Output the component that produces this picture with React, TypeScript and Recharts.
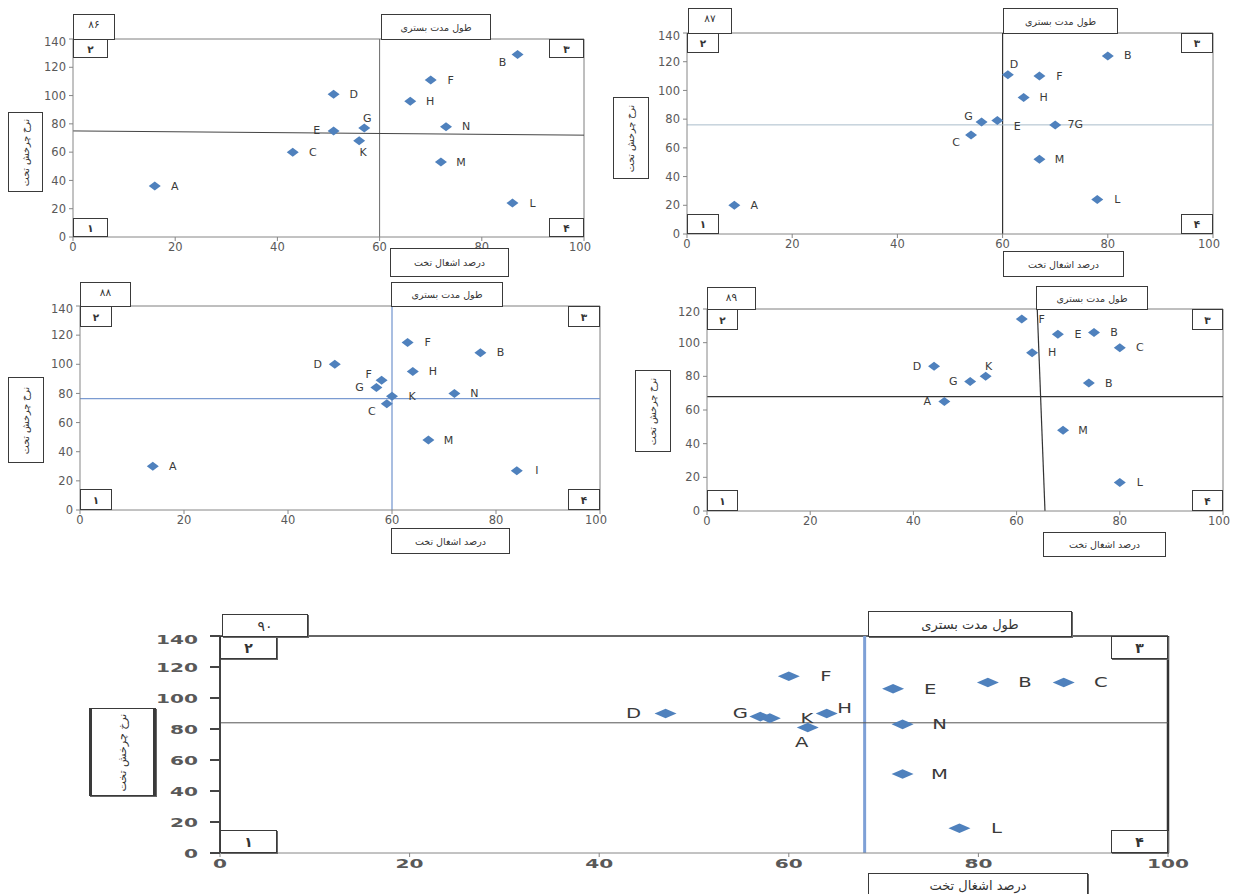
import React from "react";
import { ReferenceLine, Scatter, ScatterChart, XAxis, YAxis } from "recharts";

// shared axis ticks
const xTicks = [0, 20, 40, 60, 80, 100];
const yTicks140 = [0, 20, 40, 60, 80, 100, 120, 140];
const yTicks120 = [0, 20, 40, 60, 80, 100, 120];

// year 86
const names86 = ["A", "B", "C", "D", "E", "F", "G", "H", "K", "L", "M", "N"];
const occ86 = [16, 87, 43, 51, 51, 70, 57, 66, 56, 86, 72, 73];
const turn86 = [36, 129, 60, 101, 75, 111, 77, 96, 68, 24, 53, 78];

// year 87
const names87 = ["A", "B", "C", "D", "E", "F", "G", "H", "7G", "L", "M"];
const occ87 = [9, 80, 54, 61, 59, 67, 56, 64, 70, 78, 67];
const turn87 = [20, 124, 69, 111, 79, 110, 78, 95, 76, 24, 52];

// year 88
const names88 = ["A", "B", "C", "D", "F", "F", "G", "H", "K", "M", "N", "I"];
const occ88 = [14, 77, 59, 49, 63, 58, 57, 64, 60, 67, 72, 84];
const turn88 = [30, 108, 73, 100, 115, 89, 84, 95, 78, 48, 80, 27];

// year 89
const names89 = ["A", "B", "B", "C", "D", "E", "F", "G", "H", "K", "L", "M"];
const occ89 = [46, 75, 74, 80, 44, 68, 61, 51, 63, 54, 80, 69];
const turn89 = [65, 106, 76, 97, 86, 105, 114, 77, 94, 80, 17, 48];

// year 90
const names90 = ["A", "B", "C", "D", "E", "F", "G", "H", "K", "L", "M", "N"];
const occ90 = [62, 81, 89, 47, 71, 60, 57, 64, 58, 78, 72, 72];
const turn90 = [81, 110, 110, 90, 106, 114, 88, 90, 87, 16, 51, 83];

const quadrants = ["۱", "۲", "۳", "۴"];
const titleText = "طول مدت بستری";
const xTitleText = "درصد اشغال تخت";
const yTitleText = "نرخ چرخش تخت";

type Row = { name: string; x: number; y: number };
type Box = [number, number, number, number];
type Line = { x?: number; y?: number; seg?: [number, number, number, number]; stroke: string; w: number };

const rows = (n: string[], x: number[], y: number[]): Row[] =>
  n.map((name, i) => ({ name, x: x[i], y: y[i] }));

interface Cfg {
  year: string;
  data: Row[];
  place: Record<number, string>;
  plot: Box;
  yMax: number;
  yTicks: number[];
  lines: Line[];
  yearBox: Box;
  titleBox: Box;
  xTitleBox: Box;
  yTitleBox: Box;
  corner: [number, number];
  big?: boolean;
}

const smallOffsets: Record<string, [number, number]> = {
  r: [20, 0], l: [-17, 0], t: [3, -10], b: [4, 12],
  tl: [-13, -6], tr: [6, -10], bl: [-15, 8], br: [20, 6],
};
const bigOffsets: Record<string, [number, number]> = {
  r: [37, 0], l: [-32, 0], t: [0, -14], b: [-6, 15],
  tl: [-20, -4], tr: [18, -5], bl: [-20, 10], br: [30, 8],
};

const panels: Cfg[] = [
  {
    year: "۸۶", data: rows(names86, occ86, turn86),
    place: { 1: "bl", 4: "l", 6: "t", 8: "b" },
    plot: [73, 39, 511, 198], yMax: 140, yTicks: yTicks140,
    lines: [
      { x: 60, stroke: "#6a6a6a", w: 1 },
      { seg: [0, 75, 100, 72], stroke: "#444", w: 1 },
    ],
    yearBox: [73, 14, 42, 26], titleBox: [381, 14, 110, 26],
    xTitleBox: [390, 248, 119, 29], yTitleBox: [8, 112, 35, 80], corner: [35, 19],
  },
  {
    year: "۸۷", data: rows(names87, occ87, turn87),
    place: { 2: "bl", 3: "tr", 4: "br", 6: "tl" },
    plot: [687, 33, 526, 201], yMax: 140, yTicks: yTicks140,
    lines: [
      { x: 60, stroke: "#333", w: 1.2 },
      { y: 76, stroke: "#a9bccb", w: 1 },
    ],
    yearBox: [688, 8, 44, 26], titleBox: [1003, 8, 115, 26],
    xTitleBox: [1003, 251, 121, 26], yTitleBox: [613, 97, 36, 82], corner: [32, 20],
  },
  {
    year: "۸۸", data: rows(names88, occ88, turn88),
    place: { 2: "bl", 3: "l", 5: "tl", 6: "l" },
    plot: [80, 306, 520, 204], yMax: 140, yTicks: yTicks140,
    lines: [
      { x: 60, stroke: "#7b9bd1", w: 1.3 },
      { y: 76.5, stroke: "#7b9bd1", w: 1.3 },
    ],
    yearBox: [80, 282, 51, 25], titleBox: [391, 282, 112, 25],
    xTitleBox: [391, 528, 119, 26], yTitleBox: [8, 377, 36, 86], corner: [32, 21],
  },
  {
    year: "۸۹", data: rows(names89, occ89, turn89),
    place: { 0: "l", 4: "l", 7: "l", 9: "t" },
    plot: [707, 309, 516, 202], yMax: 120, yTicks: yTicks120,
    lines: [
      { seg: [64, 120, 65.5, 0], stroke: "#333", w: 1.2 },
      { y: 68, stroke: "#333", w: 1.2 },
    ],
    yearBox: [707, 287, 49, 23], titleBox: [1036, 286, 112, 24],
    xTitleBox: [1043, 532, 123, 25], yTitleBox: [635, 370, 36, 82], corner: [31, 21],
  },
  {
    year: "۹۰", data: rows(names90, occ90, turn90),
    place: { 0: "b", 3: "l", 6: "tl", 7: "tr" },
    plot: [220, 636, 948, 217], yMax: 140, yTicks: yTicks140,
    lines: [
      { x: 68, stroke: "#7ea0d6", w: 3 },
      { y: 84, stroke: "#555", w: 1 },
    ],
    yearBox: [222, 614, 86, 23], titleBox: [868, 611, 204, 26],
    xTitleBox: [868, 873, 220, 24], yTitleBox: [89, 708, 67, 88], corner: [57, 23],
    big: true,
  },
];

const TOP = 6;

const Tick = (p: any) => {
  const { x, y, payload, textAnchor, big, axis } = p;
  const fs = big ? 13 : 11.5;
  const st = big ? 1.55 : 1;
  return (
    <text
      transform={`translate(${x},${y}) scale(${st},1)`}
      textAnchor={textAnchor}
      dy={axis === "x" ? "0.71em" : "0.36em"}
      fill="#595959"
      fontSize={fs}
      fontFamily="DejaVu Sans, sans-serif"
      fontWeight={big ? "bold" : "normal"}
    >
      {payload.value}
    </text>
  );
};

function Panel({ c }: { c: Cfg }) {
  const [pl, pt, pw, ph] = c.plot;
  const yw = c.big ? 90 : 50;
  const right = c.big ? 30 : 8;
  const xh = c.big ? 36 : 28;
  const hw = c.big ? 11 : 6;
  const hh = c.big ? 4.8 : 4.5;
  const offs = c.big ? bigOffsets : smallOffsets;
  const frame = c.big ? "#333" : "#7f7f7f";

  const shape = (props: any) => {
    const { cx, cy, payload, index } = props;
    const idx = typeof index === "number" ? index : c.data.indexOf(payload);
    const [dx, dy] = offs[c.place[idx] || "r"];
    return (
      <g>
        <polygon
          points={`${cx - hw},${cy} ${cx},${cy - hh} ${cx + hw},${cy} ${cx},${cy + hh}`}
          fill="#4f81bd"
        />
        <text
          transform={`translate(${cx + dx},${cy + dy}) scale(${c.big ? 1.4 : 1},1)`}
          textAnchor="middle"
          dominantBaseline="central"
          fontSize={c.big ? 14 : 11}
          fontFamily="DejaVu Sans, sans-serif"
          fill="#3a3a3a"
        >
          {payload.name}
        </text>
      </g>
    );
  };

  return (
    <div style={{ position: "absolute", left: pl - yw, top: pt - TOP }}>
      <ScatterChart
        width={pw + yw + right}
        height={ph + TOP + xh}
        margin={{ top: TOP, right, left: 0, bottom: 0 }}
      >
        <XAxis
          type="number"
          dataKey="x"
          domain={[0, 100]}
          ticks={xTicks}
          height={xh}
          stroke="#868686"
          tickSize={4}
          tick={(p: any) => <Tick {...p} axis="x" big={c.big} />}
        />
        <YAxis
          type="number"
          dataKey="y"
          domain={[0, c.yMax]}
          ticks={c.yTicks}
          width={yw}
          stroke={c.big ? "#444" : "#868686"}
          strokeWidth={c.big ? 2 : 1}
          tickSize={c.big ? 10 : 4}
          tickMargin={c.big ? 12 : 3}
          tick={(p: any) => <Tick {...p} axis="y" big={c.big} />}
        />
        <ReferenceLine y={c.yMax} stroke={frame} strokeWidth={c.big ? 1.5 : 1} />
        <ReferenceLine x={100} stroke={frame} strokeWidth={c.big ? 2.5 : 1} />
        {c.lines.map((l, i) =>
          l.seg ? (
            <ReferenceLine
              key={i}
              segment={[
                { x: l.seg[0], y: l.seg[1] },
                { x: l.seg[2], y: l.seg[3] },
              ]}
              stroke={l.stroke}
              strokeWidth={l.w}
            />
          ) : l.x !== undefined ? (
            <ReferenceLine key={i} x={l.x} stroke={l.stroke} strokeWidth={l.w} />
          ) : (
            <ReferenceLine key={i} y={l.y} stroke={l.stroke} strokeWidth={l.w} />
          )
        )}
        <Scatter data={c.data} shape={shape} isAnimationActive={false} />
      </ScatterChart>
    </div>
  );
}

const boxStyle = (b: Box, big?: boolean, extra: React.CSSProperties = {}): React.CSSProperties => ({
  position: "absolute",
  left: b[0],
  top: b[1],
  width: b[2],
  height: b[3],
  boxSizing: "border-box",
  border: "1px solid #3a3a3a",
  boxShadow: big ? "1px 1px 0 #666" : "none",
  background: "#fff",
  display: "flex",
  alignItems: "center",
  justifyContent: "center",
  fontFamily: "DejaVu Sans, sans-serif",
  color: "#333",
  whiteSpace: "nowrap",
  overflow: "hidden",
  ...extra,
});

function Overlay({ c }: { c: Cfg }) {
  const [pl, pt, pw, ph] = c.plot;
  const [cw, ch] = c.corner;
  const fs = c.big ? 13 : 9.5;
  const corners: [string, number, number][] = [
    [quadrants[0], pl, pt + ph - ch],
    [quadrants[1], pl, pt],
    [quadrants[2], pl + pw - cw, pt],
    [quadrants[3], pl + pw - cw, pt + ph - ch],
  ];
  return (
    <>
      {corners.map(([t, x, y], i) => (
        <div key={i} style={boxStyle([x, y, cw, ch], c.big, { fontSize: fs + 1, fontWeight: "bold" })}>
          {t}
        </div>
      ))}
      <div style={boxStyle(c.yearBox, c.big, { fontSize: fs + 1, alignItems: "flex-start", paddingTop: 3 })}>
        {c.year}
      </div>
      <div dir="rtl" style={boxStyle(c.titleBox, c.big, { fontSize: fs })}>
        {titleText}
      </div>
      <div dir="rtl" style={boxStyle(c.xTitleBox, c.big, { fontSize: fs })}>
        {xTitleText}
      </div>
      <div
        style={boxStyle(c.yTitleBox, c.big, {
          fontSize: c.big ? 11 : fs,
          borderLeftWidth: c.big ? 3 : 1,
          borderRightWidth: c.big ? 3 : 1,
        })}
      >
        <span dir="rtl" style={{ transform: "rotate(-90deg)", display: "inline-block" }}>
          {yTitleText}
        </span>
      </div>
    </>
  );
}

export default function App() {
  return (
    <div style={{ position: "absolute", left: 0, top: 0, width: 1240, height: 894, background: "#fff" }}>
      {panels.map((c, i) => (
        <Panel key={i} c={c} />
      ))}
      {panels.map((c, i) => (
        <Overlay key={"o" + i} c={c} />
      ))}
    </div>
  );
}
